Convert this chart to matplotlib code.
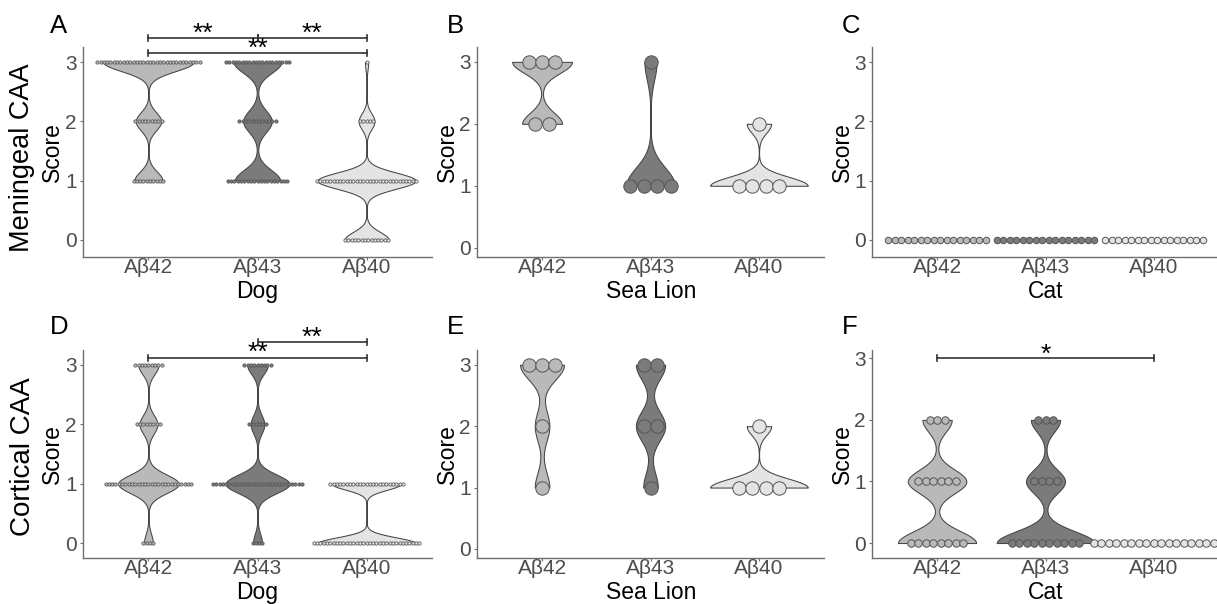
import numpy as np
import matplotlib
matplotlib.use("Agg")
import matplotlib.pyplot as plt

plt.rcParams['font.family'] = ['Liberation Sans', 'DejaVu Sans']

W, H, DPI = 1217, 604, 100

groups = ["Aβ42", "Aβ43", "Aβ40"]
score_levels = [0, 1, 2, 3]

# number of animals at each score level 0, 1, 2, 3
dog_men_a42 = [0, 10, 9, 32]
dog_men_a43 = [0, 19, 12, 20]
dog_men_a40 = [14, 31, 5, 1]

sl_men_a42 = [0, 0, 2, 3]
sl_men_a43 = [0, 4, 0, 1]
sl_men_a40 = [0, 4, 1, 0]

cat_men_a42 = [16, 0, 0, 0]
cat_men_a43 = [16, 0, 0, 0]
cat_men_a40 = [16, 0, 0, 0]

dog_cor_a42 = [4, 27, 8, 9]
dog_cor_a43 = [4, 28, 6, 9]
dog_cor_a40 = [33, 23, 0, 0]

sl_cor_a42 = [0, 1, 1, 3]
sl_cor_a43 = [0, 1, 2, 2]
sl_cor_a40 = [0, 4, 1, 0]

cat_cor_a42 = [8, 6, 3, 0]
cat_cor_a43 = [10, 4, 3, 0]
cat_cor_a40 = [17, 0, 0, 0]

species_labels = ["Dog", "Sea Lion", "Cat"]
row_labels = ["Meningeal CAA", "Cortical CAA"]
panel_letters = ["A", "B", "C", "D", "E", "F"]

# significance: (group i, group j, label)
sig_A = [(1, 2, "**"), (2, 3, "**"), (1, 3, "**")]
sig_D = [(2, 3, "**"), (1, 3, "**")]
sig_F = [(1, 3, "*")]

fills = {"Aβ42": "#b9b9b9", "Aβ43": "#7b7b7b", "Aβ40": "#e4e4e4"}
edge = "#454545"

fig = plt.figure(figsize=(W / DPI, H / DPI), dpi=DPI)

col_left = [83, 477, 872]
col_width = [349, 347, 347]
row_top = [47, 350]
row_bot = [257, 558]

panels = [
    dict(data=[dog_men_a42, dog_men_a43, dog_men_a40], ylim=(-0.287, 3.253), d=3.3,
         sig=sig_A, sig_y=[3.41, 3.41, 3.147], star_y=[3.35, 3.35, 3.10]),
    dict(data=[sl_men_a42, sl_men_a43, sl_men_a40], ylim=(-0.15, 3.24), d=13.4),
    dict(data=[cat_men_a42, cat_men_a43, cat_men_a40], ylim=(-0.287, 3.253), d=6.5),
    dict(data=[dog_cor_a42, dog_cor_a43, dog_cor_a40], ylim=(-0.247, 3.25), d=3.3,
         sig=sig_D, sig_y=[3.392, 3.123], star_y=[3.33, 3.08]),
    dict(data=[sl_cor_a42, sl_cor_a43, sl_cor_a40], ylim=(-0.147, 3.24), d=13.4),
    dict(data=[cat_cor_a42, cat_cor_a43, cat_cor_a40], ylim=(-0.243, 3.135), d=7.5,
         sig=sig_F, sig_y=[3.0], star_y=[2.95]),
]


def nrd0(x):
    hi = np.std(x, ddof=1)
    q75, q25 = np.percentile(x, [75, 25])
    lo = min(hi, (q75 - q25) / 1.34)
    if not lo > 0:
        lo = hi if hi > 0 else 1.0
    return 0.9 * lo * len(x) ** -0.2


def kde(vals, adjust=0.5):
    bw = nrd0(vals) * adjust
    ys = np.linspace(vals.min(), vals.max(), 512)
    z = (ys[:, None] - vals[None, :]) / bw
    dens = np.exp(-0.5 * z ** 2).sum(1) / (len(vals) * bw * np.sqrt(2 * np.pi))
    return ys, dens


for pi, p in enumerate(panels):
    r, c = divmod(pi, 3)
    left = col_left[c] / W
    bottom = 1 - row_bot[r] / H
    width = col_width[c] / W
    height = (row_bot[r] - row_top[r]) / H
    ax = fig.add_axes([left, bottom, width, height])
    ax.set_xlim(0.4, 3.6)
    ax.set_ylim(*p["ylim"])

    px_per_x = col_width[c] / 3.2
    dx = p["d"] / px_per_x
    ms = (p["d"] * 72 / DPI) ** 2

    # violins
    kd = []
    for gi, g in enumerate(groups):
        vals = np.repeat(score_levels, p["data"][gi]).astype(float)
        if len(np.unique(vals)) > 1:
            kd.append((gi, kde(vals)))
    if kd:
        maxd = max(dd.max() for _, (_, dd) in kd)
        for gi, (ys, dd) in kd:
            half = 0.45 * dd / maxd
            ax.fill_betweenx(ys, gi + 1 - half, gi + 1 + half, facecolor=fills[groups[gi]],
                             edgecolor=edge, linewidth=0.75, zorder=2)

    # dots
    for gi, g in enumerate(groups):
        for s, k in zip(score_levels, p["data"][gi]):
            if k == 0:
                continue
            offs = (np.arange(k) - (k - 1) / 2) * dx
            ax.scatter(gi + 1 + offs, np.full(k, s), s=ms, facecolor=fills[g],
                       edgecolor="#555555", linewidth=0.55 if p["d"] < 5 else 0.7,
                       zorder=3, clip_on=False)

    # significance bars
    if "sig" in p:
        tip = 0.05
        for (i, j, lab), yb, ys_ in zip(p["sig"], p["sig_y"], p["star_y"]):
            ax.plot([i, j], [yb, yb], color="#333333", lw=1.2, clip_on=False, zorder=4)
            for xx in (i, j):
                ax.plot([xx, xx], [yb - tip, yb + tip], color="#333333", lw=1.2,
                        clip_on=False, zorder=4)
            ax.text((i + j) / 2, ys_, lab, ha="center", va="baseline", fontsize=19,
                    color="black", zorder=5)

    ax.set_xticks([1, 2, 3])
    ax.set_xticklabels(groups)
    ax.set_yticks([0, 1, 2, 3])
    for sp in ("top", "right"):
        ax.spines[sp].set_visible(False)
    for sp in ("left", "bottom"):
        ax.spines[sp].set_color("#6e6e6e")
        ax.spines[sp].set_linewidth(1.0)
    ax.tick_params(axis="both", length=2.5, width=0.8, color="#6e6e6e",
                   labelsize=15, labelcolor="#4d4d4d", pad=2)
    ax.tick_params(axis="x", pad=-1.5)

    # axis labels
    xc = col_left[c] + 174
    fig.text(xc / W, 1 - (row_bot[r] + 41) / H, species_labels[c], ha="center",
             va="baseline", fontsize=16.5, color="black")
    yc = (row_top[r] + row_bot[r]) / 2
    off = 31 if c == 0 else 29.5
    fig.text((col_left[c] - off) / W, 1 - yc / H, "Score", ha="center", va="center",
             rotation=90, fontsize=16.5, color="black")

    # panel letter
    lx = [50, 447, 842][c]
    ly = [33, 334][r]
    fig.text(lx / W, 1 - ly / H, panel_letters[pi], ha="left", va="baseline",
             fontsize=18.5, color="black")

fig.text(22.5 / W, 1 - 158 / H, row_labels[0], ha="center", va="center", rotation=90,
         fontsize=19.5, color="black")
fig.text(23 / W, 1 - 456.7 / H, row_labels[1], ha="center", va="center", rotation=90,
         fontsize=20, color="black")

fig.savefig("out.png", dpi=DPI)
